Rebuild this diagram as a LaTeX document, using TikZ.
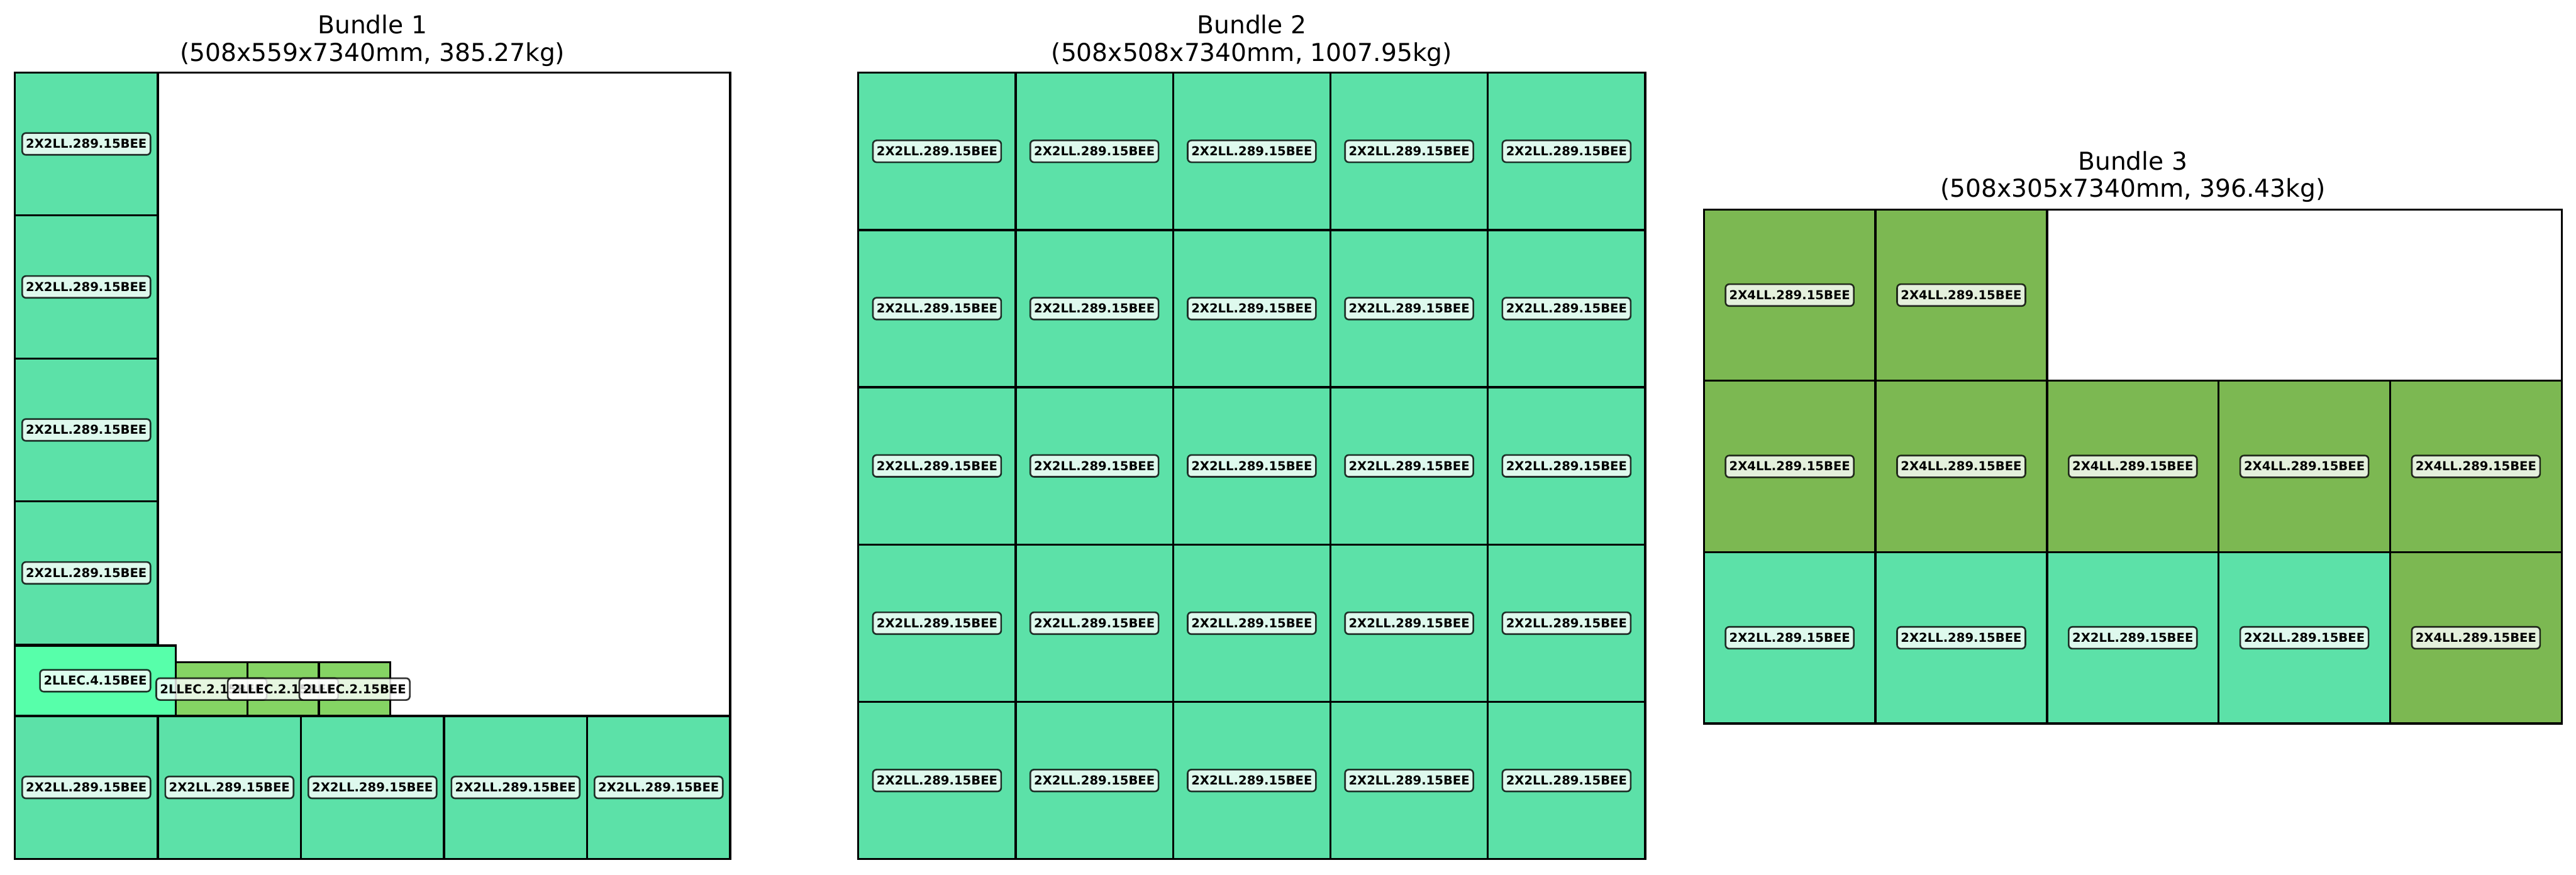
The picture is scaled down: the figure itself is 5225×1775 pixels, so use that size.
\documentclass[tikz,border=0pt]{standalone}
\usepackage{fontspec}
\setmainfont{DejaVu Sans}
\definecolor{cA}{RGB}{92,225,168}
\definecolor{cB}{RGB}{87,255,170}
\definecolor{cC}{RGB}{133,212,100}
\definecolor{cD}{RGB}{124,184,82}
\tikzset{
  box/.style={draw=black, line width=1pt},
  lab/.style={font=\bfseries\fontsize{6}{7}\selectfont, fill=white, fill opacity=0.8,
    draw=black, draw opacity=0.8, text opacity=1, rounded corners=1.8pt,
    inner xsep=1.8pt, inner ysep=1.8pt, text height=5.6pt, text depth=1.4pt, line width=0.8pt},
  ttl/.style={font=\fontsize{12}{14.4}\selectfont, anchor=base, inner sep=0pt}
}
\begin{document}
\begin{tikzpicture}[x=0.24pt, y=-0.24pt]
\useasboundingbox (0,0) rectangle (5225,1775);
\fill[white] (0,0) rectangle (5225,1775);
% ---------------- Bundle 1 ----------------
\node[ttl] (t1a) at (755.5,68) {Bundle 1};
\node[ttl] (t1b) at (755.5,125) {(508x559x7340mm, 385.27kg)};
\foreach \i in {0,...,4}{
  \draw[box, fill=cA] ({30+290.2*\i},1452.8) rectangle ({30+290.2*(\i+1)},1743);
}
\foreach \yt/\yb in {147/437.2, 437.2/727.4, 727.4/1017.6, 1017.6/1307.7}{
  \draw[box, fill=cA] (30,\yt) rectangle (320.2,\yb);
}
\draw[box, fill=cB] (30,1310) rectangle (356.4,1452.8);
\foreach \xa/\xb in {356.4/501.5, 501.5/646.6, 646.6/791.7}{
  \draw[box, fill=cC] (\xa,1344) rectangle (\xb,1452.8);
}
\draw[box] (30,147) rectangle (1481,1743);
\foreach \yc [count=\k] in {292.1, 582.3, 872.5, 1162.6}{
  \node[lab] (b1c\k) at (175.1,\yc) {2X2LL.289.15BEE};
}
\foreach \i in {0,...,4}{
  \node[lab] (b1r\i) at ({30+290.2*(\i+0.5)},1598) {2X2LL.289.15BEE};
}
\node[lab] (b1e4) at (193.2,1381.4) {2LLEC.4.15BEE};
\foreach \xc [count=\k] in {429, 574, 719.2}{
  \node[lab] (b1e2\k) at (\xc,1398.4) {2LLEC.2.15BEE};
}
% ---------------- Bundle 2 ----------------
\node[ttl] (t2a) at (2539,68) {Bundle 2};
\node[ttl] (t2b) at (2539,125) {(508x508x7340mm, 1007.95kg)};
\foreach \r in {0,...,4}{
  \foreach \c in {0,...,4}{
    \draw[box, fill=cA] ({1741+319.2*\c},{147.5+319.2*\r}) rectangle ({1741+319.2*(\c+1)},{147.5+319.2*(\r+1)});
  }
}
\draw[box] (1741,147.5) rectangle (3337,1743.5);
\foreach \r in {0,...,4}{
  \foreach \c in {0,...,4}{
    \node[lab] (b2l\r\c) at ({1741+319.2*(\c+0.5)},{147.5+319.2*(\r+0.5)}) {2X2LL.289.15BEE};
  }
}
% ---------------- Bundle 3 ----------------
\node[ttl] (t3a) at (4326,345) {Bundle 3};
\node[ttl] (t3b) at (4326,400) {(508x305x7340mm, 396.43kg)};
\foreach \r/\c/\col in {0/0/cD, 0/1/cD, 1/0/cD, 1/1/cD, 1/2/cD, 1/3/cD, 1/4/cD, 2/0/cA, 2/1/cA, 2/2/cA, 2/3/cA, 2/4/cD}{
  \draw[box, fill=\col] ({3456+348*\c},{425+347.7*\r}) rectangle ({3456+348*(\c+1)},{425+347.7*(\r+1)});
}
\draw[box] (3456,425) rectangle (5196,1468);
\foreach \r/\c/\t in {0/0/2X4LL, 0/1/2X4LL, 1/0/2X4LL, 1/1/2X4LL, 1/2/2X4LL, 1/3/2X4LL, 1/4/2X4LL, 2/0/2X2LL, 2/1/2X2LL, 2/2/2X2LL, 2/3/2X2LL, 2/4/2X4LL}{
  \node[lab] (b3l\r\c) at ({3456+348*(\c+0.5)},{425+347.7*(\r+0.5)}) {\t.289.15BEE};
}
\end{tikzpicture}
\end{document}
